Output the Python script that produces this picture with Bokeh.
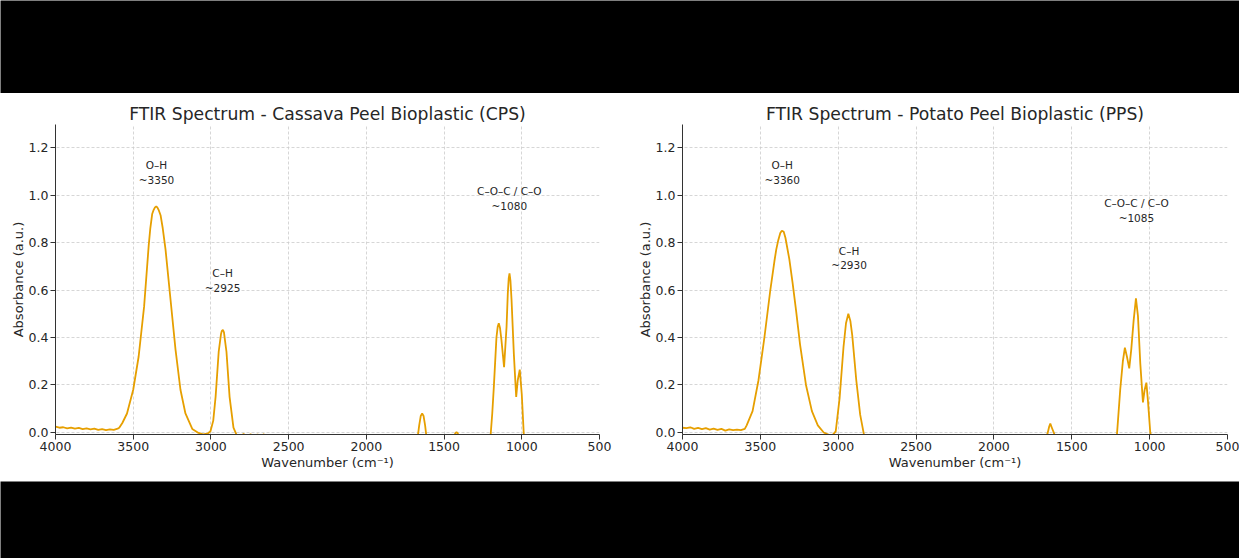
from bokeh.plotting import figure
from bokeh.models import FixedTicker, ColumnDataSource, Range1d, NumeralTickFormatter
from bokeh.layouts import column, row
from bokeh.core.properties import value
from bokeh.embed import file_html
from bokeh.resources import INLINE

# ---------------- data ----------------
x_ticks = [4000, 3500, 3000, 2500, 2000, 1500, 1000, 500]
y_ticks = [0.0, 0.2, 0.4, 0.6, 0.8, 1.0, 1.2]

title_cps = "FTIR Spectrum - Cassava Peel Bioplastic (CPS)"
title_pps = "FTIR Spectrum - Potato Peel Bioplastic (PPS)"

wn_cps = [4000, 3975, 3950, 3925, 3900, 3875, 3850, 3825, 3800, 3775, 3750, 3725,
          3700, 3675, 3650, 3625, 3600, 3590, 3570, 3540, 3500, 3465, 3430, 3400,
          3390, 3378, 3370, 3360, 3352, 3345, 3335, 3324, 3310, 3292, 3260, 3228,
          3196, 3164, 3120, 3080, 3050, 3020,
          3003, 2985, 2970, 2950, 2935, 2930, 2923, 2916, 2910, 2900, 2880, 2855, 2835, 2810,
          2790, 2770, 2745, 2720, 2700, 2680, 2660, 2640, 2600, 2400, 2200, 2000,
          1800, 1700, 1670, 1660, 1650, 1641, 1632, 1622, 1613, 1600, 1500, 1440,
          1428, 1420, 1412, 1400, 1300, 1210, 1201, 1190, 1180, 1163, 1155, 1148, 1140, 1131,
          1114, 1098, 1090, 1084, 1079, 1073, 1066, 1051, 1036, 1026, 1013, 1000, 987, 970,
          900, 700, 500]
ab_cps = [0.025, 0.020, 0.022, 0.017, 0.020, 0.016, 0.019, 0.014, 0.017, 0.013, 0.016, 0.011,
          0.014, 0.010, 0.013, 0.011, 0.016, 0.020, 0.040, 0.080, 0.180, 0.320, 0.530, 0.790,
          0.860, 0.920, 0.935, 0.948, 0.952, 0.948, 0.935, 0.915, 0.860, 0.770, 0.560, 0.350,
          0.180, 0.080, 0.015, -0.002, -0.008, -0.004,
          0.005, 0.050, 0.150, 0.340, 0.415, 0.428, 0.432, 0.422, 0.390, 0.340, 0.150, 0.020, -0.010, -0.020,
          -0.006, -0.020, -0.007, -0.025, -0.008, -0.025, -0.007, -0.030, -0.035, -0.040, -0.040, -0.040,
          -0.040, -0.035, -0.020, 0.030, 0.070, 0.080, 0.070, 0.030, -0.020, -0.035, -0.035, -0.025,
          -0.004, 0.002, -0.004, -0.025, -0.040, -0.030, -0.015, 0.080, 0.190, 0.400, 0.445, 0.460, 0.440, 0.390,
          0.275, 0.445, 0.585, 0.650, 0.670, 0.640, 0.560, 0.330, 0.150, 0.220, 0.265, 0.160, -0.010, -0.040,
          -0.050, -0.050, -0.050]

wn_pps = [4000, 3975, 3950, 3925, 3900, 3875, 3850, 3825, 3800, 3775, 3750, 3725,
          3700, 3675, 3650, 3625, 3600, 3588, 3550, 3512, 3474, 3436, 3410, 3398,
          3385, 3372, 3362, 3350, 3339, 3314, 3293, 3270, 3245, 3207, 3169, 3131, 3093,
          3060, 3042, 3016, 2991, 2966, 2950, 2935, 2922, 2910, 2884, 2859, 2833,
          2800, 2400, 2000, 1700, 1670, 1656, 1645, 1638, 1628, 1613, 1600, 1400,
          1220, 1210, 1189, 1172, 1159, 1146, 1131, 1118, 1103, 1088, 1075, 1060,
          1043, 1032, 1021, 1011, 996, 985, 900, 700, 500]
ab_pps = [0.020, 0.018, 0.022, 0.015, 0.019, 0.014, 0.018, 0.012, 0.016, 0.011, 0.015, 0.008,
          0.013, 0.010, 0.012, 0.010, 0.015, 0.030, 0.090, 0.220, 0.400, 0.600, 0.720, 0.770,
          0.810, 0.840, 0.850, 0.845, 0.820, 0.730, 0.630, 0.510, 0.370, 0.200, 0.090, 0.030, 0.000,
          -0.010, -0.015, 0.005, 0.145, 0.360, 0.460, 0.500, 0.470, 0.410, 0.220, 0.075, -0.015,
          -0.040, -0.045, -0.045, -0.040, -0.030, -0.005, 0.025, 0.037, 0.020, -0.005, -0.030, -0.045,
          -0.030, -0.010, 0.180, 0.300, 0.357, 0.320, 0.270, 0.350, 0.470, 0.565, 0.490, 0.290,
          0.127, 0.180, 0.210, 0.134, 0.000, -0.030, -0.050, -0.050, -0.050]

ann_cps_x = [3350, 2925, 1080]
ann_cps_y = [1.04, 0.585, 0.93]
ann_cps_t = ["O\u2013H\n~3350", "C\u2013H\n~2925", "C\u2013O\u2013C / C\u2013O\n~1080"]

ann_pps_x = [3360, 2930, 1085]
ann_pps_y = [1.04, 0.68, 0.88]
ann_pps_t = ["O\u2013H\n~3360", "C\u2013H\n~2930", "C\u2013O\u2013C / C\u2013O\n~1085"]

LINE = "#E69F00"
TXT = "#262626"
FONT = "DejaVu Sans"
PAGE_W = 1239


def band(height):
    b = figure(width=PAGE_W, height=height, output_backend="svg", toolbar_location=None,
               min_border=0, x_range=Range1d(0, 1), y_range=Range1d(0, 1))
    b.axis.visible = False
    b.grid.visible = False
    b.outline_line_color = None
    b.background_fill_color = "black"
    b.border_fill_color = "black"
    return b


def make_fig(title, wn, ab, ax, ay, at, width, bl, br):
    p = figure(width=width, height=388, x_range=Range1d(4000, 500),
               y_range=Range1d(-0.0085, 1.297), output_backend="svg",
               toolbar_location=None, min_border_left=bl, min_border_right=br,
               min_border_top=31, min_border_bottom=47, title=title)
    p.outline_line_color = None
    p.background_fill_color = "white"
    p.border_fill_color = "white"
    p.title.text_font = FONT
    p.title.text_font_size = "17.2px"
    p.title.text_font_style = "normal"
    p.title.text_color = TXT
    p.title.align = "center"
    p.title.standoff = 2

    for ax_ in (p.xaxis[0], p.yaxis[0]):
        ax_.axis_line_color = "#333333"
        ax_.axis_line_width = 1
        ax_.major_tick_line_color = "#333333"
        ax_.major_tick_in = 0
        ax_.major_tick_out = 5
        ax_.minor_tick_line_color = None
        ax_.major_label_text_font = FONT
        ax_.major_label_text_font_size = "12.5px"
        ax_.major_label_text_color = TXT
        ax_.axis_label_text_font = FONT
        ax_.axis_label_text_font_size = "13px"
        ax_.axis_label_text_font_style = "normal"
        ax_.axis_label_text_color = TXT
        ax_.major_label_standoff = 2
    p.xaxis.axis_label_standoff = 1
    p.yaxis.axis_label_standoff = 0

    p.xaxis.ticker = FixedTicker(ticks=x_ticks)
    p.yaxis.ticker = FixedTicker(ticks=y_ticks)
    p.yaxis.formatter = NumeralTickFormatter(format="0.0")
    p.xaxis.axis_label = "Wavenumber (cm\u207b\u00b9)"
    p.yaxis.axis_label = "Absorbance (a.u.)"

    for g in (p.xgrid[0], p.ygrid[0]):
        g.grid_line_color = "#cccccc"
        g.grid_line_dash = "3 2"
        g.grid_line_width = 0.8

    src = ColumnDataSource(data=dict(wn=wn, ab=ab))
    p.line(x="wn", y="ab", source=src, line_color=LINE, line_width=1.8)

    tsrc = ColumnDataSource(data=dict(x=ax, y=ay, t=at))
    p.text(x="x", y="y", text="t", source=tsrc, text_align="center",
           text_baseline="bottom", text_font=value(FONT), text_font_size="10.5px",
           text_color=TXT, text_line_height=1.2)
    return p


p1 = make_fig(title_cps, wn_cps, ab_cps, ann_cps_x, ann_cps_y, ann_cps_t, 628, 55, 29)
p2 = make_fig(title_pps, wn_pps, ab_pps, ann_pps_x, ann_pps_y, ann_pps_t, 611, 54, 12)

layout = column(band(93), row(p1, p2), band(77))

open("out.html", "w").write(file_html(layout, INLINE))
